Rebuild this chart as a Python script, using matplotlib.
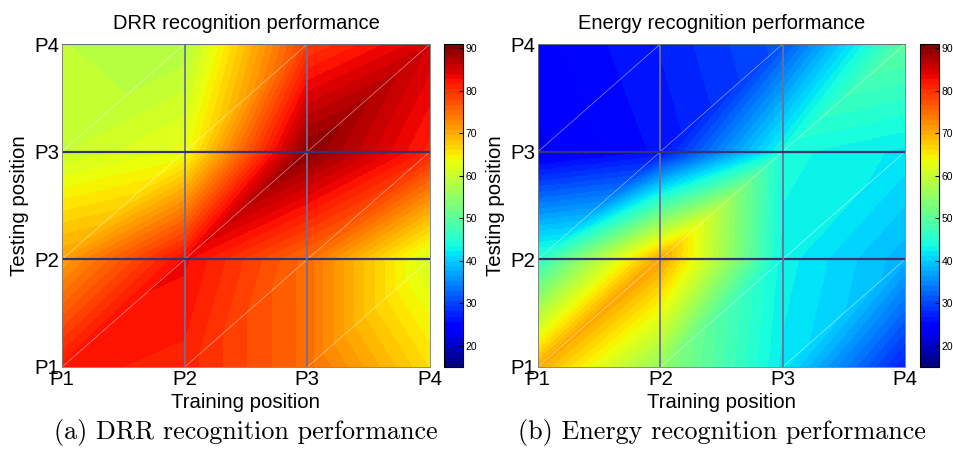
import numpy as np
import matplotlib
matplotlib.use("Agg")
import matplotlib.pyplot as plt
import matplotlib.tri as mtri

# recognition accuracy (%), rows = testing position P1..P4, cols = training position P1..P4
positions = ['P1', 'P2', 'P3', 'P4']
drr_acc = [
    [82, 81, 75, 66],
    [71, 83, 75, 61],
    [60, 63, 90, 81],
    [59, 58, 79, 85],
]
energy_acc = [
    [70, 55, 42, 27],
    [46, 71, 43, 38],
    [23, 26, 44, 42],
    [24, 27, 31, 50],
]
titles = ['DRR recognition performance', 'Energy recognition performance']
captions = ['(a) DRR recognition performance', '(b) Energy recognition performance']
cbar_ticks = [20, 30, 40, 50, 60, 70, 80, 90]
clim = (15, 91)

W, H = 954, 455
plt.rcParams['font.family'] = ['Liberation Sans', 'DejaVu Sans']


def frac(x0, y0, x1, y1):
    # pixel box (top-left origin) -> figure fraction rect
    return [x0 / W, 1 - y1 / H, (x1 - x0) / W, (y1 - y0) / H]


def build_tri(n):
    xs, ys = np.meshgrid(np.arange(n), np.arange(n))
    tris = []
    for j in range(n - 1):
        for i in range(n - 1):
            a = j * n + i
            b = j * n + i + 1
            c = (j + 1) * n + i + 1
            d = (j + 1) * n + i
            tris.append([a, b, c])
            tris.append([a, c, d])
    return mtri.Triangulation(xs.ravel().astype(float), ys.ravel().astype(float), tris)


cmap = plt.get_cmap('jet', 64)
fig = plt.figure(figsize=(W / 100, H / 100), dpi=100)

boxes = [(62, 44, 430, 367), (538, 44, 905, 367)]
cboxes = [(444, 44, 463, 367), (920, 44, 939, 367)]

for k, data in enumerate([drr_acc, energy_acc]):
    n = len(positions)
    tri = build_tri(n)
    vals = np.array(data, dtype=float).ravel()
    interp = mtri.LinearTriInterpolator(tri, vals)
    gx, gy = np.meshgrid(np.linspace(0, n - 1, 500), np.linspace(0, n - 1, 500))
    z = interp(gx, gy)

    ax = fig.add_axes(frac(*boxes[k]))
    im = ax.imshow(z, origin='lower', extent=(0, n - 1, 0, n - 1), cmap=cmap,
                   vmin=clim[0], vmax=clim[1], aspect='auto', interpolation='nearest')

    # faint triangle diagonals
    for t in tri.triangles:
        for p, q in [(t[0], t[1]), (t[1], t[2]), (t[2], t[0])]:
            if tri.x[p] != tri.x[q] and tri.y[p] != tri.y[q]:
                ax.plot([tri.x[p], tri.x[q]], [tri.y[p], tri.y[q]],
                        color='white', lw=0.5, alpha=0.3)

    for v in range(1, n - 1):
        ax.axvline(v, color='#6f6f95', lw=1.3)
        ax.axhline(v, color='#34346e', lw=1.6)
    ax.axhline(n - 1, color='#5050a0', lw=1.5)

    ax.set_xlim(0, n - 1)
    ax.set_ylim(0, n - 1)
    ax.set_xticks(range(n))
    ax.set_yticks(range(n))
    ax.set_xticklabels(positions)
    ax.set_yticklabels(positions)
    ax.tick_params(length=0, labelsize=14.7, pad=2)
    for s in ax.spines.values():
        s.set_color('#777777')
        s.set_linewidth(0.6)
    ax.set_title(titles[k], fontsize=14.5, pad=11)
    ax.set_xlabel('Training position', fontsize=14.7, labelpad=3)
    ax.set_ylabel('Testing position', fontsize=14.7, labelpad=4)

    cax = fig.add_axes(frac(*cboxes[k]))
    cb = fig.colorbar(im, cax=cax, ticks=cbar_ticks)
    cax.tick_params(direction='in', length=3, labelsize=7.5, pad=2)
    cb.outline.set_linewidth(0.8)

    cx = (boxes[k][0] + boxes[k][2]) / 2 / W
    fig.text(cx, 1 - 432 / H, captions[k], family='cmr10', fontsize=18.8,
             ha='center', va='center')

fig.savefig('out.png', dpi=100)
